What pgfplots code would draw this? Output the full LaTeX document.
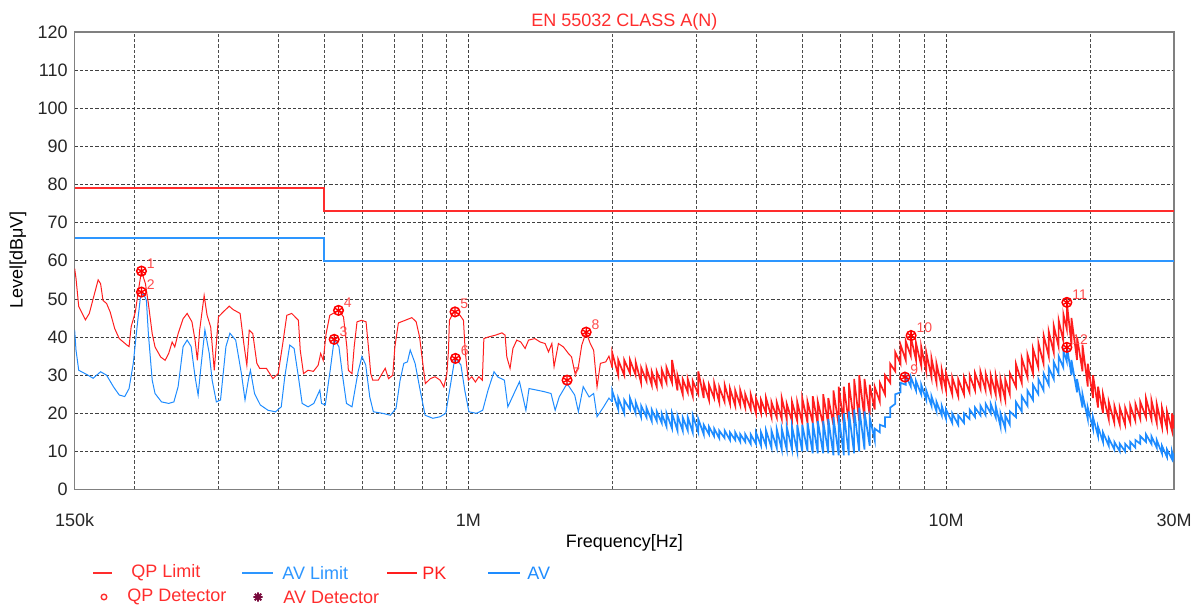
\documentclass[border=0pt]{standalone}
\usepackage{fontspec}
\setmainfont{Liberation Sans}
\usepackage{pgfplots}
\pgfplotsset{compat=1.18}

\definecolor{pkred}{RGB}{255,30,30}
\definecolor{avblue}{RGB}{30,140,255}
\definecolor{limred}{RGB}{255,45,45}
\definecolor{limblue}{RGB}{45,150,255}
\definecolor{avdet}{RGB}{120,10,60}

\begin{document}
\begin{tikzpicture}
\begin{axis}[
  at={(0,0)}, anchor=south west,
  scale only axis, width=549.7pt, height=228.8pt,
  xmode=log, xmin=150000, xmax=30000000,
  ymin=0, ymax=120,
  xtick={150000,1000000,10000000,30000000},
  xticklabels={150k,1M,10M,30M},
  minor xtick={2e5,3e5,4e5,5e5,6e5,7e5,8e5,9e5,2e6,3e6,4e6,5e6,6e6,7e6,8e6,9e6,2e7},
  ytick={0,10,...,120},
  grid=both,
  major grid style={black!75, line width=0.4pt, dash pattern=on 1.6pt off 1pt},
  minor grid style={black!70, line width=0.4pt, dash pattern=on 1.6pt off 1pt},
  major tick length=0pt, minor tick length=0pt,
  axis line style={black!50, line width=0.6pt},
  tick label style={font=\fontsize{9}{11}\selectfont, text=black!85},
  /pgf/number format/assume math mode=true,
  xticklabel style={yshift=-8.5pt},
]
% limits
\addplot[limred, line width=1pt] coordinates {(1.5e5,79)(5e5,79)(5e5,73)(3e7,73)};
\addplot[limblue, line width=1pt] coordinates {(1.5e5,66)(5e5,66)(5e5,60)(3e7,60)};

% PK trace, 150 kHz - 2 MHz
\addplot[pkred, line width=0.5pt] coordinates {
(1.50e5,58.0)(1.51e5,55.4)(1.53e5,48.0)(1.58e5,44.5)(1.61e5,46.2)(1.68e5,55.0)(1.70e5,54.0)(1.72e5,49.6)
(1.75e5,48.8)(1.78e5,46.6)(1.82e5,42.2)(1.86e5,39.6)(1.93e5,37.9)(1.95e5,37.5)(1.97e5,42.7)(2.01e5,46.6)
(2.04e5,52.3)(2.07e5,57.3)(2.11e5,54.0)(2.14e5,48.8)(2.18e5,40.9)(2.21e5,37.4)(2.27e5,34.8)(2.32e5,33.9)
(2.36e5,35.7)(2.40e5,38.7)(2.43e5,37.4)(2.47e5,40.9)(2.53e5,44.8)(2.58e5,46.2)(2.64e5,44.0)(2.68e5,39.2)
(2.71e5,33.9)(2.74e5,41.8)(2.80e5,50.9)(2.84e5,45.7)(2.89e5,42.6)(2.94e5,31.3)(3.00e5,45.3)(3.07e5,46.6)
(3.16e5,48.1)(3.22e5,47.2)(3.33e5,46.2)(3.39e5,38.3)(3.44e5,32.6)(3.48e5,41.8)(3.54e5,40.9)(3.61e5,33.1)
(3.66e5,31.8)(3.78e5,31.8)(3.90e5,29.1)(4.00e5,30.4)(4.09e5,38.3)(4.17e5,45.7)(4.27e5,46.2)(4.41e5,44.4)
(4.45e5,36.5)(4.52e5,30.4)(4.62e5,31.3)(4.74e5,31.0)(4.85e5,32.6)(4.91e5,35.7)(4.97e5,33.9)(5.04e5,40.9)
(5.13e5,45.7)(5.35e5,47.0)(5.48e5,45.3)(5.57e5,37.4)(5.61e5,31.3)(5.71e5,30.4)(5.77e5,37.4)(5.85e5,44.0)
(5.98e5,44.4)(6.11e5,44.0)(6.18e5,37.4)(6.25e5,30.4)(6.31e5,28.7)(6.48e5,28.7)(6.70e5,31.8)(6.81e5,29.1)
(6.95e5,30.0)(7.02e5,37.4)(7.14e5,43.7)(7.38e5,44.4)(7.62e5,45.1)(7.78e5,44.0)(7.91e5,40.0)(8.00e5,34.8)
(8.13e5,27.8)(8.33e5,29.1)(8.52e5,29.6)(8.73e5,28.7)(8.89e5,26.9)(9.02e5,30.4)(9.09e5,36.5)(9.13e5,44.4)
(9.34e5,46.8)(9.61e5,45.7)(9.77e5,44.4)(9.85e5,36.5)(9.93e5,32.2)(1.00e6,28.7)(1.017e6,29.6)(1.035e6,28.2)
(1.052e6,29.6)(1.07e6,28.7)(1.078e6,39.6)(1.10e6,40.0)(1.14e6,40.5)(1.176e6,41.1)(1.194e6,40.5)(1.204e6,34.8)
(1.223e6,31.8)(1.24e6,37.0)(1.263e6,39.2)(1.288e6,38.7)(1.315e6,37.0)(1.337e6,39.2)(1.378e6,39.6)(1.414e6,38.7)
(1.448e6,38.3)(1.472e6,36.1)(1.496e6,38.3)(1.512e6,32.2)(1.544e6,38.3)(1.582e6,37.4)(1.62e6,35.7)(1.645e6,34.8)
(1.673e6,30.4)(1.70e6,32.2)(1.728e6,37.9)(1.765e6,41.3)(1.80e6,38.3)(1.83e6,36.5)(1.86e6,26.9)(1.89e6,33.1)
(1.94e6,33.5)(1.97e6,35.0)(2.00e6,32)
};
% PK trace, 2 MHz - 30 MHz (band: low/high read at each frequency)
\addplot[pkred, line width=0.85pt] coordinates {
(2.00e6,32)(2.00e6,36)(2.06e6,30)(2.06e6,34)(2.12e6,30)(2.12e6,34)(2.18e6,30.5)(2.18e6,34)(2.24e6,30)(2.24e6,33.5)
(2.30e6,28)(2.30e6,32)(2.36e6,28.5)(2.36e6,32)(2.42e6,27.5)(2.42e6,31)(2.48e6,27)(2.48e6,31)(2.54e6,27.5)(2.54e6,31.5)
(2.60e6,28)(2.60e6,32)(2.67e6,28)(2.67e6,34)(2.74e6,26)(2.74e6,30)(2.81e6,25)(2.81e6,29)(2.88e6,25.5)(2.88e6,29)
(2.95e6,24.5)(2.95e6,28.5)(3.03e6,25)(3.03e6,31)(3.11e6,24)(3.11e6,28)(3.19e6,23.5)(3.19e6,27.5)(3.27e6,24)(3.27e6,28)
(3.35e6,23)(3.35e6,27)(3.44e6,23)(3.44e6,27.5)(3.53e6,22.5)(3.53e6,26.5)(3.62e6,22)(3.62e6,26)(3.71e6,22)(3.71e6,26)
(3.80e6,21.5)(3.80e6,25)(3.90e6,21)(3.90e6,25)(4.00e6,20)(4.00e6,24)(4.10e6,20)(4.10e6,23.5)(4.20e6,20)(4.20e6,24)
(4.31e6,19)(4.31e6,23)(4.42e6,19)(4.42e6,23)(4.53e6,18.5)(4.53e6,24)(4.64e6,18.5)(4.64e6,22.5)(4.76e6,18)(4.76e6,23)
(4.88e6,18)(4.88e6,23)(5.00e6,17.5)(5.00e6,24)(5.13e6,17.5)(5.13e6,23)(5.26e6,17.5)(5.26e6,24.5)(5.39e6,17)(5.39e6,23)
(5.53e6,17)(5.53e6,25)(5.67e6,17)(5.67e6,24)(5.81e6,17)(5.81e6,26)(5.96e6,17)(5.96e6,27)(6.11e6,17)(6.11e6,27)
(6.26e6,17.5)(6.26e6,28)(6.42e6,17.5)(6.42e6,29)(6.58e6,18)(6.58e6,30)(6.75e6,18.5)(6.75e6,29)(6.92e6,19.5)(6.92e6,27.5)
(7.09e6,21)(7.09e6,27)(7.27e6,23)(7.27e6,28)(7.45e6,25)(7.45e6,30)(7.64e6,28)(7.64e6,33)(7.83e6,31)(7.83e6,36)
(8.03e6,33)(8.03e6,38)(8.23e6,34)(8.23e6,39)(8.44e6,35)(8.44e6,40)(8.65e6,34)(8.65e6,38.5)(8.87e6,32.5)(8.87e6,37.5)
(9.09e6,31)(9.09e6,36)(9.32e6,29.5)(9.32e6,34.5)(9.55e6,28)(9.55e6,33)(9.79e6,27)(9.79e6,31.5)(1.00e7,26)(1.00e7,30.5)
(1.03e7,25)(1.03e7,29.5)(1.06e7,24.5)(1.06e7,29)(1.09e7,25)(1.09e7,29.5)(1.12e7,25.5)(1.12e7,30)(1.15e7,26)(1.15e7,30.5)
(1.18e7,26.5)(1.18e7,31)(1.21e7,26)(1.21e7,30.5)(1.24e7,25.5)(1.24e7,30)(1.27e7,25)(1.27e7,30)(1.30e7,24)(1.30e7,29)
(1.33e7,23.5)(1.33e7,29)(1.36e7,25)(1.36e7,30.5)(1.40e7,27)(1.40e7,33)(1.44e7,28)(1.44e7,34.5)(1.48e7,29.5)(1.48e7,35.5)
(1.52e7,30.5)(1.52e7,37)(1.56e7,32)(1.56e7,38.5)(1.60e7,33)(1.60e7,40.5)(1.64e7,35)(1.64e7,41.5)(1.68e7,36)(1.68e7,43)
(1.72e7,37.5)(1.72e7,44.5)(1.76e7,39)(1.76e7,46)(1.79e7,42)(1.79e7,49)(1.83e7,38)(1.83e7,45)(1.88e7,34)(1.88e7,40)
(1.93e7,31)(1.93e7,38)(1.98e7,27)(1.98e7,33)(2.03e7,24)(2.03e7,30)(2.08e7,21.5)(2.08e7,27)(2.13e7,20)(2.13e7,25)
(2.19e7,18.5)(2.19e7,23)(2.25e7,17.5)(2.25e7,22)(2.31e7,17)(2.31e7,21.5)(2.37e7,17)(2.37e7,21.5)(2.43e7,17.5)(2.43e7,22)
(2.49e7,18)(2.49e7,22.5)(2.55e7,18.5)(2.55e7,23)(2.62e7,19)(2.62e7,24)(2.69e7,18.5)(2.69e7,23.5)(2.76e7,17.5)(2.76e7,22.5)
(2.83e7,16.5)(2.83e7,21.5)(2.90e7,16)(2.90e7,20.5)(2.97e7,15.5)(2.97e7,20)(3.00e7,16)(3.00e7,19.5)
};

% AV trace, 150 kHz - 2 MHz
\addplot[avblue, line width=0.5pt] coordinates {
(1.50e5,41.9)(1.51e5,36.6)(1.53e5,31.3)(1.60e5,30.0)(1.64e5,29.2)(1.70e5,30.9)(1.75e5,30.0)(1.81e5,26.9)
(1.86e5,24.8)(1.91e5,24.4)(1.95e5,26.5)(1.99e5,33.1)(2.03e5,43.5)(2.06e5,50.5)(2.09e5,51.4)(2.12e5,49.6)
(2.14e5,40.9)(2.18e5,28.7)(2.21e5,25.2)(2.28e5,23.0)(2.36e5,22.6)(2.42e5,23.0)(2.47e5,27.0)(2.53e5,37.5)
(2.58e5,39.2)(2.63e5,37.5)(2.68e5,29.6)(2.72e5,24.8)(2.76e5,32.7)(2.81e5,41.9)(2.87e5,35.7)(2.91e5,28.7)
(2.97e5,23.0)(3.03e5,23.5)(3.11e5,37.5)(3.17e5,41.0)(3.26e5,39.2)(3.35e5,30.5)(3.41e5,23.5)(3.47e5,29.2)
(3.50e5,31.3)(3.57e5,25.2)(3.67e5,22.2)(3.81e5,20.8)(3.95e5,20.4)(4.06e5,21.7)(4.13e5,29.6)(4.23e5,37.9)
(4.32e5,37.0)(4.41e5,29.6)(4.49e5,22.6)(4.62e5,21.7)(4.75e5,22.6)(4.89e5,26.1)(4.93e5,22.6)(5.02e5,22.2)
(5.14e5,31.3)(5.24e5,39.4)(5.36e5,37.5)(5.46e5,29.6)(5.56e5,22.6)(5.71e5,21.7)(5.88e5,30.9)(5.99e5,34.9)
(6.10e5,32.7)(6.22e5,24.3)(6.33e5,20.4)(6.62e5,20.0)(6.87e5,19.5)(7.06e5,21.3)(7.20e5,28.7)(7.33e5,33.1)
(7.46e5,33.5)(7.56e5,36.6)(7.74e5,33.1)(7.93e5,26.1)(8.12e5,19.5)(8.43e5,18.7)(8.73e5,19.1)(8.97e5,20.0)
(9.14e5,26.1)(9.36e5,34.0)(9.40e5,34.4)(9.65e5,32.7)(9.83e5,26.1)(1.003e6,20.4)(1.04e6,20.0)(1.072e6,20.8)
(1.10e6,26.1)(1.132e6,30.9)(1.154e6,29.5)(1.19e6,28.7)(1.21e6,21.7)(1.256e6,26.1)(1.28e6,28.3)(1.32e6,20.8)
(1.34e6,26.5)(1.39e6,26.1)(1.44e6,25.7)(1.49e6,25.2)(1.52e6,20.8)(1.55e6,24.3)(1.61e6,27.8)(1.67e6,24.8)
(1.70e6,20.4)(1.74e6,27.0)(1.79e6,24.3)(1.83e6,25.2)(1.86e6,19.1)(1.92e6,21.7)(1.97e6,24.0)(2.00e6,23)
};
% AV trace, 2 MHz - 30 MHz
\addplot[avblue, line width=0.85pt] coordinates {
(2.00e6,23)(2.00e6,26)(2.06e6,21)(2.06e6,24)(2.12e6,20)(2.12e6,23.5)(2.18e6,21)(2.18e6,24)(2.24e6,20)(2.24e6,23)
(2.30e6,19)(2.30e6,22)(2.36e6,19)(2.36e6,21.5)(2.42e6,18)(2.42e6,21)(2.48e6,18)(2.48e6,20.5)(2.54e6,17.5)(2.54e6,20)
(2.60e6,16.5)(2.60e6,20)(2.67e6,16)(2.67e6,20)(2.74e6,15.5)(2.74e6,19.5)(2.81e6,15.5)(2.81e6,19)(2.88e6,15.5)(2.88e6,19)
(2.95e6,15)(2.95e6,19.5)(3.03e6,15)(3.03e6,18.5)(3.11e6,14.5)(3.11e6,17)(3.19e6,14.5)(3.19e6,16.5)(3.27e6,14)(3.27e6,16)
(3.35e6,13.5)(3.35e6,15.5)(3.44e6,13.5)(3.44e6,15.5)(3.53e6,13)(3.53e6,15)(3.62e6,13)(3.62e6,15)(3.71e6,12.5)(3.71e6,14.5)
(3.80e6,12.5)(3.80e6,14.5)(3.90e6,12)(3.90e6,14.5)(4.00e6,12)(4.00e6,15)(4.10e6,11.5)(4.10e6,15)(4.20e6,11.5)(4.20e6,15.5)
(4.31e6,11)(4.31e6,15.5)(4.42e6,11)(4.42e6,16)(4.53e6,10.5)(4.53e6,16)(4.64e6,10.5)(4.64e6,16.5)(4.76e6,10.5)(4.76e6,16.5)
(4.88e6,10)(4.88e6,17)(5.00e6,10)(5.00e6,17)(5.13e6,10)(5.13e6,17.5)(5.26e6,9.5)(5.26e6,17.5)(5.39e6,9.5)(5.39e6,18)
(5.53e6,9.5)(5.53e6,18)(5.67e6,9.5)(5.67e6,18.5)(5.81e6,9)(5.81e6,19)(5.96e6,9)(5.96e6,19.5)(6.11e6,9)(6.11e6,20)
(6.26e6,9)(6.26e6,20.5)(6.42e6,9.5)(6.42e6,21)(6.58e6,10)(6.58e6,21.5)(6.75e6,10.5)(6.75e6,20.5)(6.92e6,11.5)(6.92e6,19)
(7.09e6,13)(7.09e6,16)(7.27e6,15)(7.27e6,17)(7.45e6,16.5)(7.45e6,19)(7.64e6,19)(7.64e6,21.5)(7.83e6,22.5)(7.83e6,25)
(8.03e6,25.5)(8.03e6,28)(8.23e6,27.5)(8.23e6,30)(8.44e6,27)(8.44e6,29.5)(8.65e6,26)(8.65e6,28.5)(8.87e6,25)(8.87e6,27.5)
(9.09e6,23.5)(9.09e6,26)(9.32e6,22)(9.32e6,24.5)(9.55e6,20.5)(9.55e6,23)(9.79e6,19.5)(9.79e6,22)(1.00e7,18.5)(1.00e7,21)
(1.03e7,17.5)(1.03e7,20)(1.06e7,17)(1.06e7,19.5)(1.09e7,17.5)(1.09e7,20)(1.12e7,18.5)(1.12e7,21)(1.15e7,19)(1.15e7,21.5)
(1.18e7,19.5)(1.18e7,22)(1.21e7,19.5)(1.21e7,22.5)(1.24e7,20)(1.24e7,22.5)(1.27e7,19)(1.27e7,22)(1.30e7,16.5)(1.30e7,20)
(1.33e7,16)(1.33e7,19.5)(1.36e7,17)(1.36e7,20.5)(1.40e7,19)(1.40e7,23)(1.44e7,20.5)(1.44e7,24.5)(1.48e7,22)(1.48e7,26)
(1.52e7,23.5)(1.52e7,27.5)(1.56e7,25)(1.56e7,29)(1.60e7,26)(1.60e7,30.5)(1.64e7,27.5)(1.64e7,32)(1.68e7,29)(1.68e7,33.5)
(1.72e7,30.5)(1.72e7,35)(1.76e7,32)(1.76e7,36.5)(1.79e7,33.5)(1.79e7,37.5)(1.83e7,30)(1.83e7,34)(1.88e7,25.5)(1.88e7,29)
(1.93e7,21.5)(1.93e7,25)(1.98e7,18.5)(1.98e7,21.5)(2.03e7,16)(2.03e7,19)(2.08e7,14)(2.08e7,16.5)(2.13e7,12.5)(2.13e7,15)
(2.19e7,11.5)(2.19e7,13.5)(2.25e7,10.5)(2.25e7,12.5)(2.31e7,10)(2.31e7,12)(2.37e7,10)(2.37e7,12)(2.43e7,10.5)(2.43e7,12.5)
(2.49e7,11)(2.49e7,13)(2.55e7,12)(2.55e7,14)(2.62e7,12.5)(2.62e7,14.5)(2.69e7,12)(2.69e7,14)(2.76e7,11)(2.76e7,13)
(2.83e7,9.5)(2.83e7,11.5)(2.90e7,8.5)(2.90e7,10.5)(2.97e7,8)(2.97e7,10)(3.00e7,8)(3.00e7,9.5)
};

% detector markers
\addplot[only marks, mark=o, mark size=2.4pt, red, line width=0.75pt] coordinates {
(2.07e5,57.3)(2.07e5,51.8)(5.24e5,39.4)(5.35e5,47.0)(9.38e5,46.6)(9.40e5,34.4)
(1.61e6,28.7)(1.765e6,41.3)(8.20e6,29.5)(8.45e6,40.4)(1.79e7,49.1)(1.79e7,37.3)};
\addplot[only marks, mark=asterisk, mark size=2.4pt, red, line width=0.65pt] coordinates {
(2.07e5,57.3)(2.07e5,51.8)(5.24e5,39.4)(5.35e5,47.0)(9.38e5,46.6)(9.40e5,34.4)
(1.61e6,28.7)(1.765e6,41.3)(8.20e6,29.5)(8.45e6,40.4)(1.79e7,49.1)(1.79e7,37.3)};
\addplot[draw=none, mark=none, nodes near coords, point meta=explicit symbolic,
  nodes near coords style={anchor=south west, inner sep=0pt, xshift=2.5pt, yshift=1.2pt,
  font=\fontsize{7}{8}\selectfont, text=red!70}] coordinates {
(2.07e5,57.3)[1](2.07e5,51.8)[2](5.24e5,39.4)[3](5.35e5,47.0)[4](9.38e5,46.6)[5](9.40e5,34.4)[6]
(1.61e6,28.7)[7](1.765e6,41.3)[8](8.20e6,29.5)[9](8.45e6,40.4)[10](1.79e7,49.1)[11](1.79e7,37.3)[12]};
\end{axis}

% title and axis labels
\node[anchor=base, text=limred, font=\fontsize{9}{11}\selectfont] at (274.85pt,231.5pt) {EN 55032 CLASS A(N)};
\node[rotate=90, anchor=center, font=\fontsize{9}{11}\selectfont] at (-28.3pt,114.8pt) {Level[dBμV]};
\node[anchor=center, font=\fontsize{9}{11}\selectfont] at (274.85pt,-26.7pt) {Frequency[Hz]};

% legend
\begin{scope}[font=\fontsize{9}{11}\selectfont]
\draw[limred, line width=1pt] (9.2pt,-41.7pt) -- (18.7pt,-41.7pt);
\node[anchor=west, text=limred, inner sep=0pt] at (28.2pt,-41.7pt) {QP Limit};
\draw[limblue, line width=1pt] (83.7pt,-41.7pt) -- (99.2pt,-41.7pt);
\node[anchor=west, text=limblue, inner sep=0pt] at (103.7pt,-41.7pt) {AV Limit};
\draw[pkred, line width=1pt] (156.2pt,-41.7pt) -- (171.2pt,-41.7pt);
\node[anchor=west, text=pkred, inner sep=0pt] at (173.7pt,-41.7pt) {PK};
\draw[avblue, line width=1pt] (206.7pt,-41.7pt) -- (222.7pt,-41.7pt);
\node[anchor=west, text=avblue, inner sep=0pt] at (226.2pt,-41.7pt) {AV};
\draw[limred, line width=0.7pt] (14.7pt,-53.7pt) circle (1.4pt);
\node[anchor=west, text=limred, inner sep=0pt] at (26.2pt,-53.7pt) {QP Detector};
\draw[avdet, line width=0.9pt, shift={(91.7pt,-53.7pt)}]
  (0:2.3pt) -- (180:2.3pt) (45:2.3pt) -- (225:2.3pt) (90:2.3pt) -- (270:2.3pt) (135:2.3pt) -- (315:2.3pt);
\node[anchor=west, text=limred, inner sep=0pt] at (104.2pt,-53.7pt) {AV Detector};
\end{scope}

\path[use as bounding box] (-37.3pt,-60.2pt) rectangle (564.2pt,244.8pt);
\end{tikzpicture}
\end{document}
